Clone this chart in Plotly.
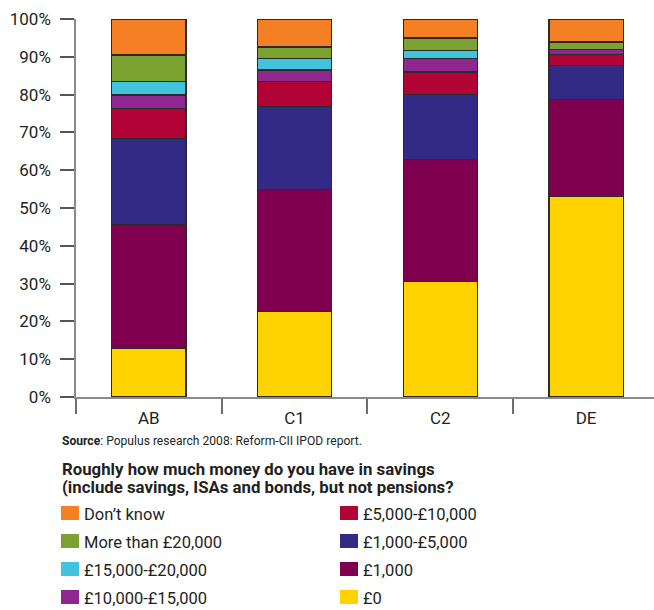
import plotly.graph_objects as go

# Social grade groups on the x axis
groups = ["AB", "C1", "C2", "DE"]

# Share of respondents (%) in each savings band, per group
savings_0 = [12.8, 22.7, 30.6, 53.1]
savings_1000 = [32.7, 32.1, 32.3, 25.5]
savings_1000_5000 = [22.8, 22.1, 17.1, 9.1]
savings_5000_10000 = [8.1, 6.5, 6.0, 2.9]
savings_10000_15000 = [3.5, 3.1, 3.6, 1.3]
savings_15000_20000 = [3.5, 3.0, 2.1, 0.0]
savings_over_20000 = [7.1, 3.1, 3.3, 2.0]
dont_know = [9.5, 7.4, 5.0, 6.1]

y_ticks = [0, 10, 20, 30, 40, 50, 60, 70, 80, 90, 100]
y_tick_labels = [f"{v}%" for v in y_ticks]

# Stacked from the bottom up
series = [
    ("£0", savings_0, "#FFD200"),
    ("£1,000", savings_1000, "#7F004E"),
    ("£1,000-£5,000", savings_1000_5000, "#332A86"),
    ("£5,000-£10,000", savings_5000_10000, "#B10335"),
    ("£10,000-£15,000", savings_10000_15000, "#8E278F"),
    ("£15,000-£20,000", savings_15000_20000, "#41C3DC"),
    ("More than £20,000", savings_over_20000, "#7BA130"),
    ("Don’t know", dont_know, "#F47F24"),
]

# Key layout: left column then right column, top to bottom
key_left = ["Don’t know", "More than £20,000", "£15,000-£20,000", "£10,000-£15,000"]
key_right = ["£5,000-£10,000", "£1,000-£5,000", "£1,000", "£0"]

FONT = "Roboto"
TEXT = "#231f20"

fig = go.Figure()
for name, vals, color in series:
    fig.add_trace(go.Bar(
        x=groups, y=vals, name=name, width=0.51,
        marker=dict(color=color, line=dict(color="#2b2b2b", width=1.2)),
        showlegend=False,
    ))

# Plot area in pixels
L, R, T, B = 76, 654, 19, 397
W, H = 654, 610


def px(x):
    return (x - L) / (R - L)


def py(y):
    return (B - y) / (B - T)


colors = {name: color for name, _, color in series}
shapes = []
annotations = []
row_y = [513, 541, 569, 597]
for col_x, names in ((61, key_left), (340, key_right)):
    for yy, name in zip(row_y, names):
        shapes.append(dict(
            type="rect", xref="paper", yref="paper",
            x0=px(col_x), x1=px(col_x + 18), y0=py(yy + 7), y1=py(yy - 7),
            fillcolor=colors[name], line=dict(width=0),
        ))
        annotations.append(dict(
            text=name, xref="paper", yref="paper", x=px(col_x + 21), y=py(yy + 1),
            xanchor="left", yanchor="middle", showarrow=False,
            font=dict(family=FONT, size=16.5, color=TEXT),
        ))

annotations.append(dict(
    text="<b>Source</b>: Populus research 2008: Reform-CII IPOD report.",
    xref="paper", yref="paper", x=px(60), y=py(441),
    xanchor="left", yanchor="middle", showarrow=False,
    font=dict(family=FONT, size=12.1, color=TEXT),
))
for yy, line in ((469, "Roughly how much money do you have in savings"),
                 (487, "(include savings, ISAs and bonds, but not pensions?")):
    annotations.append(dict(
        text=f"<b>{line}</b>", xref="paper", yref="paper", x=px(60), y=py(yy),
        xanchor="left", yanchor="middle", showarrow=False,
        font=dict(family=FONT, size=16.8, color=TEXT),
    ))

fig.update_layout(
    width=W, height=H,
    margin=dict(l=L, r=W - R, t=T, b=H - B, pad=0),
    barmode="stack",
    plot_bgcolor="white", paper_bgcolor="white",
    font=dict(family=FONT, color=TEXT),
    shapes=shapes, annotations=annotations,
    xaxis=dict(
        type="category", range=[-0.5, 3.466], tickson="boundaries",
        ticks="outside", ticklen=15, tickwidth=1.5, tickcolor="#6d6d6d",
        showline=True, linecolor="#8a8a8a", linewidth=1.5,
        showgrid=False, zeroline=False, ticklabelstandoff=5,
        tickfont=dict(family=FONT, size=17, color=TEXT),
    ),
    yaxis=dict(
        range=[0, 100], tickmode="array", tickvals=y_ticks, ticktext=y_tick_labels,
        ticks="outside", ticklen=14, tickwidth=1.5, tickcolor="#555555",
        showline=True, linecolor="#8a8a8a", linewidth=1.5,
        showgrid=False, zeroline=False, ticklabelstandoff=6,
        tickfont=dict(family=FONT, size=17, color=TEXT),
    ),
)

fig.write_html("out.html")
